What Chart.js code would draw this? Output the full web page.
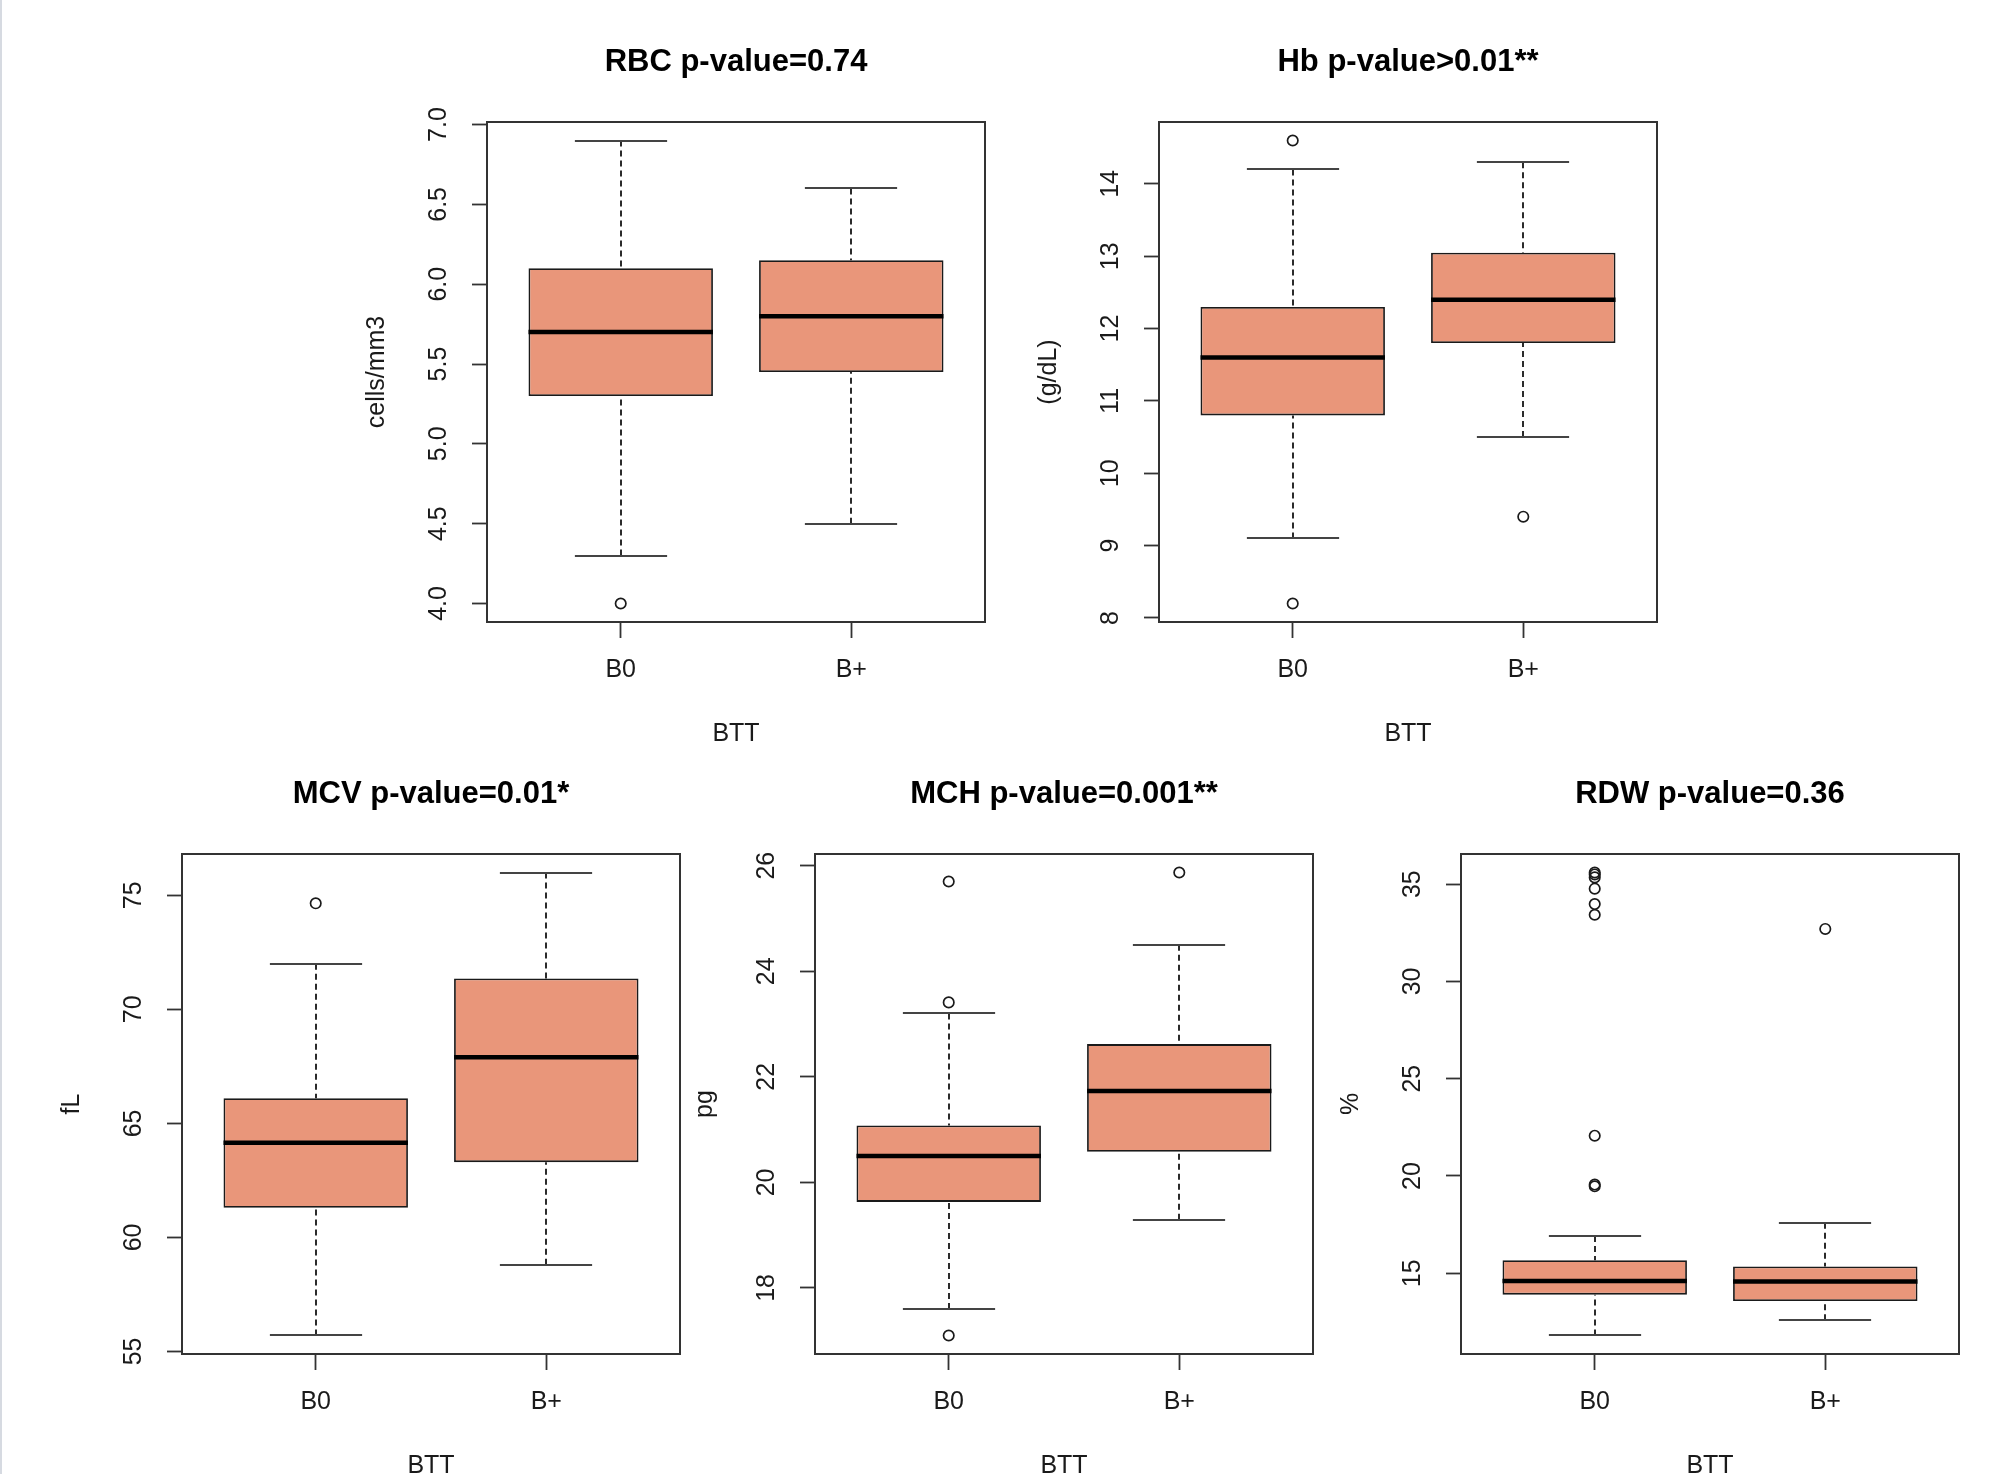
<!DOCTYPE html>
<html>
<head>
<meta charset="utf-8">
<script src="https://cdn.jsdelivr.net/npm/chart.js@4.4.1/dist/chart.umd.min.js"></script>
<style>
  html, body { margin: 0; padding: 0; background: #fff; overflow: hidden; }
  body { width: 1992px; height: 1474px; position: relative; }
  #edge { position: absolute; left: 0; top: 0; width: 2px; height: 1474px; background: #d6dae1; }
  canvas { position: absolute; }
</style>
</head>
<body>
<div id="edge"></div>
<canvas id="rbc" width="668" height="730" style="left:327px;top:32px"></canvas>
<canvas id="hb"  width="668" height="730" style="left:999px;top:32px"></canvas>
<canvas id="mcv" width="668" height="730" style="left:22px;top:764px"></canvas>
<canvas id="mch" width="668" height="730" style="left:655px;top:764px"></canvas>
<canvas id="rdw" width="668" height="730" style="left:1301px;top:764px"></canvas>
<script>
const groups = ["B0", "B+"];

// five-number summaries per group: lower whisker, Q1, median, Q3, upper whisker
const rbcB0 = [4.3, 5.3, 5.7, 6.1, 6.9];
const rbcBplus = [4.5, 5.45, 5.8, 6.15, 6.6];
const rbcOutB0 = [4.0];
const rbcOutBplus = [];
const rbcTicks = [4.0, 4.5, 5.0, 5.5, 6.0, 6.5, 7.0];
const rbcTickLabels = ["4.0", "4.5", "5.0", "5.5", "6.0", "6.5", "7.0"];

const hbB0 = [9.1, 10.8, 11.6, 12.3, 14.2];
const hbBplus = [10.5, 11.8, 12.4, 13.05, 14.3];
const hbOutB0 = [14.6, 8.2];
const hbOutBplus = [9.4];
const hbTicks = [8, 9, 10, 11, 12, 13, 14];
const hbTickLabels = ["8", "9", "10", "11", "12", "13", "14"];

const mcvB0 = [55.7, 61.3, 64.15, 66.1, 72.0];
const mcvBplus = [58.8, 63.3, 67.9, 71.35, 76.0];
const mcvOutB0 = [74.65];
const mcvOutBplus = [];
const mcvTicks = [55, 60, 65, 70, 75];
const mcvTickLabels = ["55", "60", "65", "70", "75"];

const mchB0 = [17.6, 19.63, 20.5, 21.08, 23.2];
const mchBplus = [19.29, 20.58, 21.73, 22.62, 24.5];
const mchOutB0 = [25.7, 23.41, 17.1];
const mchOutBplus = [25.87];
const mchTicks = [18, 20, 22, 24, 26];
const mchTickLabels = ["18", "20", "22", "24", "26"];

const rdwB0 = [11.8, 13.9, 14.6, 15.67, 16.92];
const rdwBplus = [12.58, 13.57, 14.58, 15.35, 17.59];
const rdwOutB0 = [35.6, 35.5, 35.35, 34.77, 33.98, 33.43, 22.07, 19.56, 19.47];
const rdwOutBplus = [32.7];
const rdwTicks = [15, 20, 25, 30, 35];
const rdwTickLabels = ["15", "20", "25", "30", "35"];

const fontFamily = "'Liberation Sans', Arial, sans-serif";
const textColor = "#1a1a1a";

// whiskers, staples, medians and the plot frame, all placed through the scales
const boxWhiskers = {
    id: "boxWhiskers",
    beforeDatasetsDraw(chart, args, opts) {
        const { ctx, scales: { x, y } } = chart;
        ctx.save();
        ctx.strokeStyle = "#2b2b2b";
        ctx.lineWidth = 2;
        opts.stats.forEach((s, i) => {
            const cx = Math.round(x.getPixelForValue(i + 1));
            const half = x.getPixelForValue(i + 1.2) - x.getPixelForValue(i + 1);
            ctx.setLineDash([6, 4]);
            ctx.beginPath();
            ctx.moveTo(cx, y.getPixelForValue(s[0]));
            ctx.lineTo(cx, y.getPixelForValue(s[1]));
            ctx.moveTo(cx, y.getPixelForValue(s[4]));
            ctx.lineTo(cx, y.getPixelForValue(s[3]));
            ctx.stroke();
            ctx.setLineDash([]);
            ctx.strokeStyle = "#444";
            ctx.beginPath();
            [s[0], s[4]].forEach(v => {
                const py = Math.round(y.getPixelForValue(v));
                ctx.moveTo(cx - half, py);
                ctx.lineTo(cx + half, py);
            });
            ctx.stroke();
            ctx.strokeStyle = "#2b2b2b";
        });
        ctx.restore();
    },
    afterDatasetsDraw(chart, args, opts) {
        const { ctx, chartArea: a, scales: { x, y } } = chart;
        ctx.save();
        ctx.strokeStyle = "#000";
        ctx.lineWidth = 4.5;
        opts.stats.forEach((s, i) => {
            const x0 = x.getPixelForValue(i + 0.6);
            const x1 = x.getPixelForValue(i + 1.4);
            const py = y.getPixelForValue(s[2]);
            ctx.beginPath();
            ctx.moveTo(x0, py);
            ctx.lineTo(x1, py);
            ctx.stroke();
        });
        ctx.strokeStyle = "#333";
        ctx.lineWidth = 2;
        ctx.strokeRect(a.left, a.top, a.right - a.left, a.bottom - a.top);
        ctx.restore();
    }
};

function boxChart(id, title, unit, stats, outliers, ticks, tickLabels) {
    const all = stats.flat().concat(outliers.flat());
    const lo = Math.min(...all), hi = Math.max(...all);
    const pad = (hi - lo) * 0.04;

    const ctx = document.getElementById(id).getContext("2d");
    ctx.font = "25px " + fontFamily;
    const widest = Math.max(...tickLabels.map(t => ctx.measureText(t).width));

    return new Chart(ctx, {
        type: "bar",
        data: {
            datasets: [
                {
                    type: "bar",
                    data: stats.map((s, i) => ({ x: i + 1, y: [s[1], s[3]] })),
                    backgroundColor: "#E9967A",
                    borderColor: "#1a1a1a",
                    borderWidth: 1.8,
                    borderSkipped: false,
                    barPercentage: 0.8,
                    categoryPercentage: 1
                },
                {
                    type: "scatter",
                    data: outliers.flatMap((o, i) => o.map(v => ({ x: i + 1, y: v }))),
                    pointStyle: "circle",
                    pointRadius: 5.2,
                    pointBorderWidth: 1.7,
                    pointBorderColor: "#1a1a1a",
                    pointBackgroundColor: "rgba(0,0,0,0)"
                }
            ]
        },
        options: {
            responsive: false,
            animation: false,
            events: [],
            layout: { padding: { left: 0, right: 10, top: 0, bottom: 0 } },
            plugins: {
                legend: { display: false },
                tooltip: { enabled: false },
                title: {
                    display: true,
                    text: title,
                    fullSize: false,
                    color: "#000",
                    font: { family: fontFamily, size: 31, weight: "bold" },
                    padding: { top: 11.9, bottom: 40.9 }
                },
                boxWhiskers: { stats: stats }
            },
            scales: {
                x: {
                    type: "linear",
                    min: 0.42,
                    max: 2.58,
                    offset: false,
                    afterBuildTicks: s => { s.ticks = groups.map((g, i) => ({ value: i + 1 })); },
                    afterFit: s => { s.height = 140; },
                    ticks: {
                        callback: (v, i) => groups[i],
                        color: textColor,
                        font: { family: fontFamily, size: 25 },
                        padding: 17,
                        maxRotation: 0,
                        autoSkip: false
                    },
                    grid: {
                        display: true,
                        drawOnChartArea: false,
                        drawTicks: true,
                        tickLength: 16,
                        tickWidth: 1.8,
                        tickColor: "#333",
                        offset: false
                    },
                    border: { display: false },
                    title: {
                        display: true,
                        text: "BTT",
                        color: textColor,
                        font: { family: fontFamily, size: 25 },
                        padding: { top: 0, bottom: 13 }
                    }
                },
                y: {
                    min: lo - pad,
                    max: hi + pad,
                    beginAtZero: false,
                    afterBuildTicks: s => { s.ticks = ticks.map(v => ({ value: v })); },
                    afterFit: s => { s.width = 160; },
                    ticks: {
                        callback: (v, i) => tickLabels[i],
                        color: textColor,
                        font: { family: fontFamily, size: 25 },
                        minRotation: 90,
                        maxRotation: 90,
                        crossAlign: "center",
                        padding: 48 - 15 - widest / 2,
                        autoSkip: false
                    },
                    grid: {
                        display: true,
                        drawOnChartArea: false,
                        drawTicks: true,
                        tickLength: 15,
                        tickWidth: 1.8,
                        tickColor: "#333"
                    },
                    border: { display: false },
                    title: {
                        display: true,
                        text: unit,
                        color: textColor,
                        font: { family: fontFamily, size: 25 },
                        padding: { top: 35, bottom: 0 }
                    }
                }
            }
        },
        plugins: [boxWhiskers]
    });
}

boxChart("rbc", "RBC p-value=0.74", "cells/mm3", [rbcB0, rbcBplus], [rbcOutB0, rbcOutBplus], rbcTicks, rbcTickLabels);
boxChart("hb", "Hb p-value>0.01**", "(g/dL)", [hbB0, hbBplus], [hbOutB0, hbOutBplus], hbTicks, hbTickLabels);
boxChart("mcv", "MCV p-value=0.01*", "fL", [mcvB0, mcvBplus], [mcvOutB0, mcvOutBplus], mcvTicks, mcvTickLabels);
boxChart("mch", "MCH p-value=0.001**", "pg", [mchB0, mchBplus], [mchOutB0, mchOutBplus], mchTicks, mchTickLabels);
boxChart("rdw", "RDW p-value=0.36", "%", [rdwB0, rdwBplus], [rdwOutB0, rdwOutBplus], rdwTicks, rdwTickLabels);
</script>
</body>
</html>
